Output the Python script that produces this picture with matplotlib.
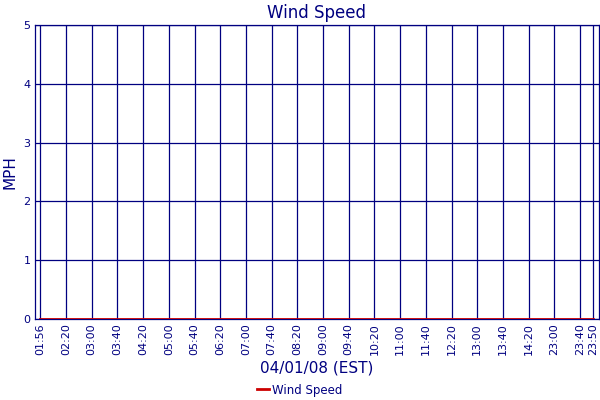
import matplotlib

matplotlib.use("Agg")
import matplotlib.pyplot as plt
import numpy as np

# sample times shown on the x axis and the measured speeds (all calm)
time_labels = [
    "01:56", "02:20", "03:00", "03:40", "04:20", "05:00", "05:40", "06:20",
    "07:00", "07:40", "08:20", "09:00", "09:40", "10:20", "11:00", "11:40",
    "12:20", "13:00", "13:40", "14:20", "23:00", "23:40", "23:50",
]
wind_mph = [0] * len(time_labels)

navy = "#000080"
red = "#cc0000"

# evenly spaced samples, the last one is only half a step after 23:40
x_pos = np.arange(len(time_labels), dtype=float)
x_pos[-1] = x_pos[-2] + 0.52

fig = plt.figure(figsize=(6, 4), dpi=100)
ax = fig.add_axes([0.0575, 0.2025, 0.941, 0.735])

ax.plot(x_pos, wind_mph, color=red, linewidth=2, label="Wind Speed", zorder=3)

ax.set_xlim(-0.226, 21.74)
ax.set_ylim(0, 5)
ax.set_xticks(x_pos)
ax.set_xticklabels(time_labels, rotation=90, fontsize=8, color=navy)
ax.set_yticks(range(6))
ax.set_yticklabels([str(v) for v in range(6)], fontsize=8, color=navy)
ax.tick_params(length=0, pad=3)

ax.grid(True, color=navy, linewidth=0.9)
for s in ax.spines.values():
    s.set_color(navy)
    s.set_linewidth(0.9)

ax.set_title("Wind Speed", color=navy, fontsize=12, pad=5)
ax.set_ylabel("MPH", color=navy, fontsize=11, labelpad=4)
ax.set_xlabel("04/01/08 (EST)", color=navy, fontsize=11, labelpad=4)

fig.legend(
    loc="lower center",
    bbox_to_anchor=(0.5, -0.018),
    frameon=False,
    fontsize=8.5,
    labelcolor=navy,
    handlelength=1.0,
    handletextpad=0.3,
)

fig.savefig("out.png", dpi=100)
